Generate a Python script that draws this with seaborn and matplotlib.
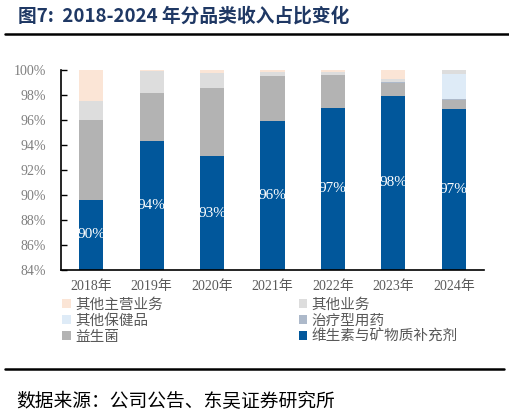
import numpy as np
import pandas as pd
import matplotlib
matplotlib.use("Agg")
import matplotlib.pyplot as plt
from matplotlib.patches import Patch
import seaborn as sns

years = ["2018年", "2019年", "2020年", "2021年", "2022年", "2023年", "2024年"]
vitamin = [89.6, 94.35, 93.1, 95.9, 97.0, 97.95, 96.9]
probiotic = [6.4, 3.8, 5.45, 3.65, 2.6, 1.05, 0.7]
treatment = [0.0, 0.0, 0.0, 0.0, 0.0, 0.05, 0.05]
other_health = [0.0, 0.0, 0.0, 0.0, 0.0, 0.0, 2.0]
other_business = [1.5, 1.75, 1.25, 0.3, 0.25, 0.25, 0.35]
other_main = [2.5, 0.1, 0.2, 0.15, 0.15, 0.7, 0.0]

series_names = ["维生素与矿物质补充剂", "益生菌", "治疗型用药", "其他保健品", "其他业务", "其他主营业务"]
series_vals = [vitamin, probiotic, treatment, other_health, other_business, other_main]
colors = ["#01579B", "#B3B3B3", "#ADB9CA", "#DEEBF7", "#DDDDDD", "#FBE5D6"]

sns.set_theme(style="white")
SERIF = ['Liberation Serif', 'Noto Sans CJK SC']
CJK = ['Noto Sans CJK SC', 'DejaVu Sans']
plt.rcParams['font.family'] = SERIF

fig = plt.figure(figsize=(5.09, 4.16), dpi=100)
ax = fig.add_axes([61/509, 1-270/416, 423/509, 200/416])

cum = np.cumsum(np.array(series_vals), axis=0)
for i in range(len(series_names)-1, -1, -1):
    df = pd.DataFrame({"year": years, "val": cum[i]})
    sns.barplot(data=df, x="year", y="val", color=colors[i], width=0.4,
                saturation=1, ax=ax, linewidth=0)

ax.set_ylim(84, 100)
ax.set_xlim(-0.5, 6.5)
ax.set_yticks(np.arange(84, 101, 2))
ax.set_yticklabels([f"{v}%" for v in range(84, 101, 2)], color="#7F7F7F", fontsize=10)
ax.set_xticks(np.arange(-0.5, 6.6, 1), minor=False)
ax.set_xticklabels([])
ax.set_xticks(range(7), minor=True)
ax.set_xticklabels(years, minor=True, color="#595959", fontsize=10)
ax.tick_params(axis='x', which='major', direction='in', length=4, width=1, color='black')
ax.tick_params(axis='x', which='minor', length=0, pad=7)
ax.tick_params(axis='y', direction='in', length=4, width=1, color='black', pad=11, left=True)
ax.set_xlabel("")
ax.set_ylabel("")
for s in ["top", "right"]:
    ax.spines[s].set_visible(False)
for s in ["left", "bottom"]:
    ax.spines[s].set_color("black")
    ax.spines[s].set_linewidth(1.2)

for i, v in enumerate(vitamin):
    ax.text(i, (84 + v) / 2, f"{round(v)}%", ha="center", va="center",
            color="white", fontsize=11)

order = [5, 3, 1, 4, 2, 0]
handles = [Patch(facecolor=colors[k], edgecolor='none') for k in order]
labels = [series_names[k] for k in order]
leg = fig.legend(handles, labels, ncol=2, loc="upper left", bbox_to_anchor=(62/509, 1-298/416),
                 frameon=False, prop={'family': CJK, 'size': 10.5}, handlelength=0.6,
                 handleheight=0.6, handletextpad=0.3, columnspacing=9.3, labelspacing=0.12,
                 labelcolor="#595959", borderaxespad=0, borderpad=0)

fig.text(18/509, 1-16/416, "图7:  2018-2024 年分品类收入占比变化", fontsize=13.5,
         fontweight="bold", color="#1F3864", va="center", ha="left", family=CJK)
fig.add_artist(plt.Line2D([5/509, 1.0], [1-34/416, 1-34/416], color="black", lw=1.8))
fig.add_artist(plt.Line2D([5/509, 504/509], [1-369/416, 1-369/416], color="black", lw=1.8))
fig.text(16/509, 1-402/416, "数据来源：公司公告、东吴证券研究所", fontsize=13.5,
         color="black", va="center", ha="left", family=CJK)

fig.savefig("out.png", dpi=100)
